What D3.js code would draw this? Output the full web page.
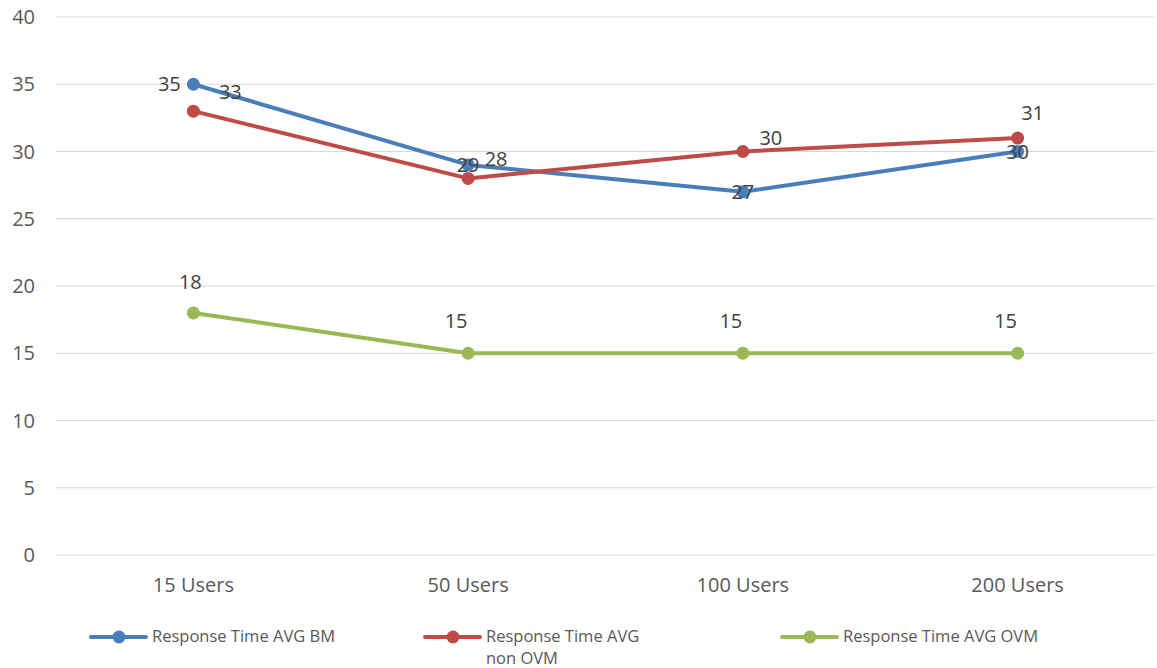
<!DOCTYPE html>
<html>
<head>
<meta charset="utf-8">
<script src="https://cdn.jsdelivr.net/npm/d3@7"></script>
<style>
  body { margin: 0; background: #fff; }
  text { font-family: "Open Sans", "Noto Sans", sans-serif; }
</style>
</head>
<body>
<div id="chart"></div>
<script>
// 데이터
const categories = ["15 Users", "50 Users", "100 Users", "200 Users"];
const seriesNames = ["Response Time AVG BM", "Response Time AVG non OVM", "Response Time AVG OVM"];
const valuesBM = [35, 29, 27, 30];
const valuesNonOVM = [33, 28, 30, 31];
const valuesOVM = [18, 15, 15, 15];
const yTicks = [0, 5, 10, 15, 20, 25, 30, 35, 40];

const colors = ["#4a7ebb", "#be4b48", "#98b954"];

const width = 1157, height = 668;
const margin = { left: 56, right: 2, top: 17, bottom: 113 };

const svg = d3.select("#chart").append("svg")
    .attr("width", width)
    .attr("height", height);

const x = d3.scaleBand()
    .domain(categories)
    .range([margin.left, width - margin.right]);

const y = d3.scaleLinear()
    .domain([0, 40])
    .range([height - margin.bottom, margin.top]);

// 그리드
svg.append("g")
    .selectAll("line")
    .data(yTicks)
    .enter()
    .append("line")
    .attr("x1", margin.left)
    .attr("x2", width - margin.right)
    .attr("y1", d => y(d))
    .attr("y2", d => y(d))
    .attr("stroke", "#d9d9d9")
    .attr("stroke-width", 1);

// y축 라벨
svg.append("g")
    .selectAll("text")
    .data(yTicks)
    .enter()
    .append("text")
    .attr("x", 35)
    .attr("y", d => y(d))
    .attr("dy", "0.35em")
    .attr("text-anchor", "end")
    .attr("fill", "#595959")
    .style("font-size", "20px")
    .text(d => d);

// x축 라벨
svg.append("g")
    .selectAll("text")
    .data(categories)
    .enter()
    .append("text")
    .attr("x", d => x(d) + x.bandwidth() / 2)
    .attr("y", 592)
    .attr("text-anchor", "middle")
    .attr("fill", "#595959")
    .style("font-size", "20px")
    .text(d => d);

const series = [
    { name: seriesNames[0], values: valuesBM, color: colors[0], dx: [-24, 0, 0, 0], dy: [0, 0, 0, 0] },
    { name: seriesNames[1], values: valuesNonOVM, color: colors[1], dx: [37, 28, 28, 15], dy: [-19, -19, -14, -25] },
    { name: seriesNames[2], values: valuesOVM, color: colors[2], dx: [-3, -12, -12, -12], dy: [-31, -32, -32, -32] }
];

const line = d3.line()
    .x((d, i) => x(categories[i]) + x.bandwidth() / 2)
    .y(d => y(d));

series.forEach(s => {
    svg.append("path")
        .datum(s.values)
        .attr("fill", "none")
        .attr("stroke", s.color)
        .attr("stroke-width", 4)
        .attr("stroke-linejoin", "round")
        .attr("d", line);

    svg.append("g")
        .selectAll("circle")
        .data(s.values)
        .enter()
        .append("circle")
        .attr("cx", (d, i) => x(categories[i]) + x.bandwidth() / 2)
        .attr("cy", d => y(d))
        .attr("r", 6.5)
        .attr("fill", s.color);
});

// 데이터 라벨
series.forEach(s => {
    svg.append("g")
        .selectAll("text")
        .data(s.values)
        .enter()
        .append("text")
        .attr("x", (d, i) => x(categories[i]) + x.bandwidth() / 2 + s.dx[i])
        .attr("y", (d, i) => y(d) + s.dy[i])
        .attr("dy", "0.35em")
        .attr("text-anchor", "middle")
        .attr("fill", "#404040")
        .style("font-size", "20px")
        .text(d => d);
});

// 범례
const legendItems = [
    { x: 91, lines: ["Response Time AVG BM"] },
    { x: 425, lines: ["Response Time AVG", "non OVM"] },
    { x: 782, lines: ["Response Time AVG OVM"] }
];
const legendY = 637;

legendItems.forEach((item, i) => {
    const g = svg.append("g");
    g.append("line")
        .attr("x1", item.x)
        .attr("x2", item.x + 55)
        .attr("y1", legendY)
        .attr("y2", legendY)
        .attr("stroke", colors[i])
        .attr("stroke-width", 4)
        .attr("stroke-linecap", "round");
    g.append("circle")
        .attr("cx", item.x + 28)
        .attr("cy", legendY)
        .attr("r", 6.5)
        .attr("fill", colors[i]);
    // 줄마다 따로 text
    item.lines.forEach((l, j) => {
        g.append("text")
            .attr("x", item.x + 61)
            .attr("y", legendY + 5 + j * 22)
            .attr("fill", "#595959")
            .style("font-size", "16.5px")
            .text(l);
    });
});
</script>
</body>
</html>
